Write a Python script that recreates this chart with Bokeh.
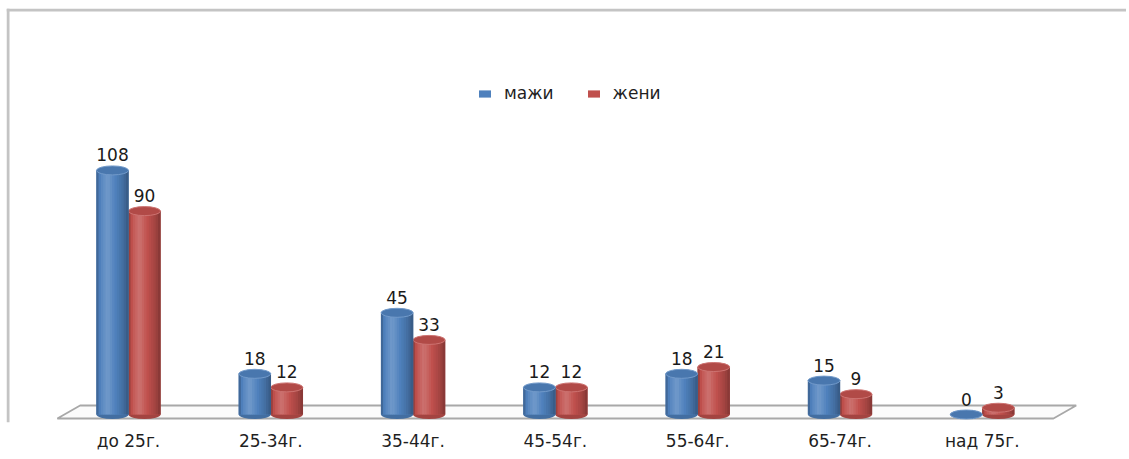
from bokeh.plotting import figure
from bokeh.models import (ColumnDataSource, Range1d, FixedTicker, Span, Legend, LegendItem)
from bokeh.embed import file_html
from bokeh.resources import INLINE
from bokeh.core.properties import value

# ---- data ----
categories = ["до 25г.", "25-34г.", "35-44г.", "45-54г.", "55-64г.", "65-74г.", "над 75г."]
series_names = ["мажи", "жени"]
men = [108, 18, 45, 12, 18, 15, 0]
women = [90, 12, 33, 12, 21, 9, 3]
series_values = [men, women]
series_colors = ["#4F81BD", "#C0504D"]

FONT = "DejaVu Sans"
n = len(categories)

# ---- geometry (pixel mapping) ----
LEFT, TOP = 6, 8
FRAME_W, FRAME_H = 1120, 414
PX_X = 142.3          # px per category
PX_Y = 2.26           # px per unit
X0_PX = 128.0 - LEFT  # frame px of first category centre
Y0_PX = 414.0 - TOP   # frame px (from top) of value 0
x_start = -X0_PX / PX_X
x_end = x_start + FRAME_W / PX_X
y_end = Y0_PX / PX_Y
y_start = -(FRAME_H - Y0_PX) / PX_Y

BAR_W = 32 / PX_X
offsets = [-BAR_W / 2, BAR_W / 2]
ELL_H = 9

p = figure(frame_width=FRAME_W, frame_height=FRAME_H, output_backend="svg",
           toolbar_location=None, x_range=Range1d(x_start, x_end),
           y_range=Range1d(y_start, y_end), min_border_left=LEFT, min_border_right=0,
           min_border_top=TOP, min_border_bottom=0, background_fill_color="white",
           border_fill_color="white", outline_line_color=None)
p.yaxis.visible = False
p.xgrid.grid_line_color = None
p.ygrid.grid_line_color = None
ax = p.xaxis[0]
ax.ticker = FixedTicker(ticks=list(range(n)))
ax.major_label_overrides = {i: c for i, c in enumerate(categories)}
ax.axis_line_color = None
ax.major_tick_line_color = None
ax.minor_tick_line_color = None
ax.major_label_standoff = 2
ax.major_label_text_font = FONT
ax.major_label_text_font_size = "17px"
ax.major_label_text_color = "#1F1F1F"

# chart box border (left / top)
p.add_layout(Span(location=x_start + 1.5 / PX_X, dimension="height", line_color="#C4C4C4", line_width=3))
p.add_layout(Span(location=y_end - 1.5 / PX_Y, dimension="width", line_color="#C4C4C4", line_width=3))

# floor
skew = 0.16
front = -4 / PX_Y
back = 9 / PX_Y
p.patch([-0.5, n - 0.5, n - 0.5 + skew, -0.5 + skew], [front, front, back, back],
        fill_color="#FBFBFB", line_color="#A8A8A8", line_width=1.8)


def hex2rgb(h):
    h = h.lstrip("#")
    return [int(h[i:i + 2], 16) for i in (0, 2, 4)]


def mix(h, amt):
    r = hex2rgb(h)
    if amt >= 0:
        r = [c + (255 - c) * amt for c in r]
    else:
        r = [c * (1 + amt) for c in r]
    return "#%02x%02x%02x" % tuple(int(round(max(0, min(255, c)))) for c in r)


prof_t = [0.0, 0.12, 0.35, 0.6, 0.85, 1.0]
prof_a = [-0.28, 0.02, 0.2, 0.0, -0.16, -0.32]


def profile(t):
    for i in range(len(prof_t) - 1):
        if prof_t[i] <= t <= prof_t[i + 1]:
            f = (t - prof_t[i]) / (prof_t[i + 1] - prof_t[i])
            return prof_a[i] + f * (prof_a[i + 1] - prof_a[i])
    return prof_a[-1]


NSTRIP = 14
legend_items = []
order = [1, 0]
for s in order:
    vals = series_values[s]
    col = series_colors[s]
    xs = [i + offsets[s] for i in range(n)]
    base = ColumnDataSource(dict(x=xs, top=vals, bottom=[0] * n))
    # bottom ellipse
    p.ellipse(x="x", y="bottom", width=BAR_W, height=ELL_H, height_units="screen",
              source=base, fill_color=mix(col, -0.15), line_color=None)
    body = p.vbar(x="x", top="top", bottom=0, width=BAR_W, source=base,
                  fill_color=col, line_color=None)
    legend_items.append((s, body))
    sx, st, sc = [], [], []
    for i in range(n):
        for k in range(NSTRIP):
            t = (k + 0.5) / NSTRIP
            sx.append(xs[i] - BAR_W / 2 + t * BAR_W)
            st.append(vals[i])
            sc.append(mix(col, profile(t)))
    strips = ColumnDataSource(dict(x=sx, top=st, color=sc))
    p.vbar(x="x", top="top", bottom=0, width=BAR_W / NSTRIP * 1.2, source=strips,
           fill_color="color", line_color=None)
    # top ellipse
    p.ellipse(x="x", y="top", width=BAR_W, height=ELL_H, height_units="screen",
              source=base, fill_color=mix(col, -0.08), line_color=mix(col, 0.2), line_width=1)
    lab = ColumnDataSource(dict(x=xs, y=vals, t=[str(v) for v in vals]))
    p.text(x="x", y="y", text="t", source=lab, text_align="center", text_baseline="bottom",
           y_offset=-9, text_font=value(FONT), text_font_size="17px", text_color="#1A1A1A")

legend_items.sort(key=lambda a: a[0])
legend = Legend(items=[LegendItem(label=series_names[s], renderers=[r]) for s, r in legend_items],
                orientation="horizontal", location=(471, 319), border_line_color=None,
                background_fill_alpha=0, padding=0, margin=0, spacing=32,
                glyph_width=15, glyph_height=9, label_standoff=12,
                label_text_font=FONT, label_text_font_size="17px", label_text_color="#1F1F1F")
p.add_layout(legend)

open("out.html", "w").write(file_html(p, INLINE))
